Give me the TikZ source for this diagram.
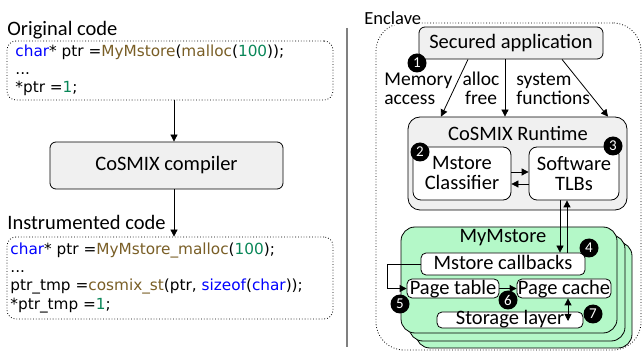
\documentclass[tikz,border=0pt]{standalone}
\usepackage{fontspec}
\setmainfont{Carlito}
\newfontfamily\codefont{DejaVu Sans}
\usetikzlibrary{arrows.meta,calc}
\definecolor{kw}{RGB}{0,0,255}
\definecolor{fn}{RGB}{121,94,38}
\definecolor{nm}{RGB}{9,134,88}
\definecolor{boxgray}{RGB}{240,240,240}
\definecolor{mint}{RGB}{180,248,200}
\definecolor{sepgray}{RGB}{128,128,128}
\begin{document}
\begin{tikzpicture}[x=1pt,y=-1pt, line width=0.8pt,
  >={Triangle[length=7pt,width=7pt]},
  every node/.style={inner sep=0pt},
  graybox/.style={draw, fill=boxgray, rounded corners=6pt},
  whitebox/.style={draw, fill=white, rounded corners=5pt},
  greenbox/.style={draw, fill=mint, rounded corners=14pt, minimum width=216pt, minimum height=106pt},
  codebox/.style={draw, dotted, rounded corners=9pt, minimum width=326pt},
  codeline/.style={font=\codefont\fontsize{15.3}{18}\selectfont, anchor=base west},
  bigtext/.style={font=\fontsize{20.5}{20}\selectfont, align=center},
  lbl/.style={font=\fontsize{19.5}{19.5}\selectfont},
  num/.style={circle, fill=black, text=white, minimum size=19pt, font=\fontsize{15}{15}\selectfont},
]
\useasboundingbox (0,0) rectangle (642,352);

% ---------- left side ----------
\node[bigtext, anchor=base west] (origlbl) at (7,36) {Original code};
\node[codebox, minimum height=59pt] (orig) at (170,70.5) {};
\node[codeline] (o1) at (15,57) {\textcolor{kw}{char}* ptr =\textcolor{fn}{MyMstore}(\textcolor{fn}{malloc}(\textcolor{nm}{100}));};
\node[codeline] (o2) at (15,75) {...};
\node[codeline] (o3) at (15,93) {*ptr =\textcolor{nm}{1};};

\node[graybox, bigtext, minimum width=233pt, minimum height=47pt] (comp) at (166.5,165.5) {CoSMIX compiler};

\node[bigtext, anchor=base west] (instrlbl) at (7,230) {Instrumented code};
\node[codebox, minimum height=82pt] (instr) at (170,278) {};
\node[codeline] (i1) at (10,255) {\textcolor{kw}{char}* ptr =\textcolor{fn}{MyMstore\_malloc}(\textcolor{nm}{100});};
\node[codeline] (i2) at (10,273) {...};
\node[codeline] (i3) at (10,291) {ptr\_tmp =\textcolor{fn}{cosmix\_st}(ptr, \textcolor{kw}{sizeof}(\textcolor{kw}{char}));};
\node[codeline] (i4) at (10,309) {*ptr\_tmp =\textcolor{nm}{1};};

\draw[->] (orig.south -| 174,0) -- (comp.north -| 174,0);
\draw[->] (comp.south -| 174,0) -- (instr.north -| 174,0);

% separator
\draw[sepgray, line width=1.5pt] (347,28) -- (347,347);

% ---------- right side ----------
\node[draw, dotted, rounded corners=28pt, minimum width=265pt, minimum height=327pt] (enclave) at (508.5,186.5) {};
\node[font=\fontsize{18.5}{18}\selectfont, fill=white, anchor=base west] (enclbl) at (364,25) {Enclave};

\node[graybox, bigtext, minimum width=184pt, minimum height=32pt] (app) at (511,43) {Secured application};

\node[graybox, rounded corners=12pt, minimum width=219pt, minimum height=93pt] (rt) at (517.5,163.5) {};
\node[bigtext, anchor=base] (rtlbl) at (518,141) {CoSMIX Runtime};
\node[whitebox, rounded corners=8pt, bigtext, minimum width=98pt, minimum height=53pt] (cls) at (462,173.5) {Mstore\\Classifier};
\node[whitebox, rounded corners=8pt, bigtext, minimum width=90pt, minimum height=53pt] (tlb) at (574,173.5) {Software\\TLBs};

\draw[->] (app.south -| 468,0) -- (rt.north -| 441,0);
\draw[->] (app.south -| 505,0) -- (rt.north -| 505,0);
\draw[->] (app.south -| 562,0) -- (rt.north -| 608,0);
\node[lbl, anchor=base west, align=left] (l1) at (384,105) {Memory\\[0pt]access};
\node[lbl, anchor=base, align=center] (l2) at (481,105) {alloc\\[0pt]free};
\node[lbl, anchor=base west, align=left] (l3) at (516,105) {system\\[0pt]functions};

\draw[->] (cls.east |- 0,172) -- (tlb.west |- 0,172);
\draw[->] (tlb.west |- 0,184) -- (cls.east |- 0,184);

% MyMstore stack
\node[greenbox] (ms3) at (524,295) {};
\node[greenbox] (ms2) at (517,288) {};
\node[greenbox] (ms1) at (509,280) {};
\node[bigtext, anchor=base] (mslbl) at (503,243) {MyMstore};
\node[whitebox, bigtext, minimum width=164pt, minimum height=22pt, text height=14pt, text depth=2pt] (cb) at (503,264) {Mstore callbacks};
\node[whitebox, bigtext, minimum width=92pt, minimum height=19pt, text height=14pt, text depth=1pt] (pt) at (453,288.5) {Page table};
\node[whitebox, bigtext, minimum width=94pt, minimum height=19pt, text height=14pt, text depth=1pt] (pc) at (564,288.5) {Page cache};
\node[whitebox, bigtext, minimum width=146pt, minimum height=16pt, text height=11pt, text depth=3pt] (sl) at (510,320) {Storage layer};

\draw[->] (tlb.south -| 560,0) -- (cb.north -| 560,0);
\draw[->] (cb.north -| 567,0) -- (tlb.south -| 567,0);
\draw[->] (cb.west) -- ++(-33,0) |- (pt.west);
\draw[->] (pt.east) -- (pc.west);
\coordinate (slend) at (568,321);
\draw[<->] (pc.south -| slend) -- (slend);

% numbered circles
\node[num] (n1) at (417,63) {1};
\node[num] (n2) at (420,152) {2};
\node[num] (n3) at (613,146) {3};
\node[num] (n4) at (589,248) {4};
\node[num] (n5) at (400,304) {5};
\node[num] (n6) at (508,300) {6};
\node[num] (n7) at (593,314) {7};
\end{tikzpicture}
\end{document}
